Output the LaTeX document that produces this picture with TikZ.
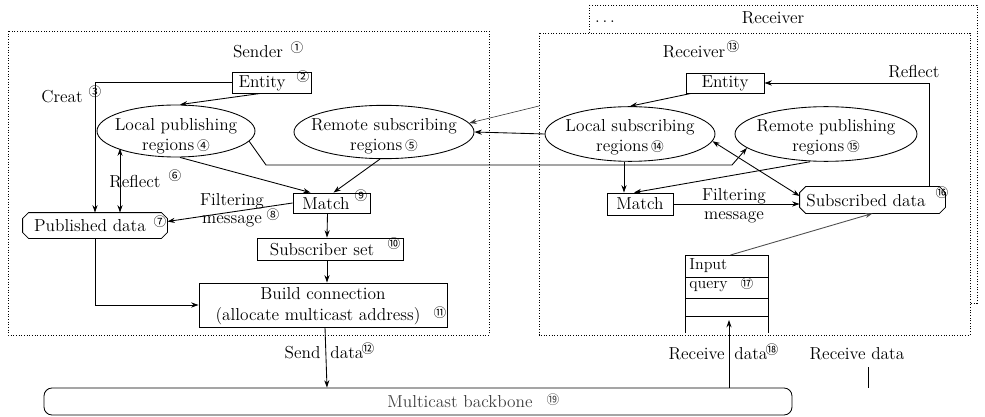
\documentclass[tikz,border=0pt]{standalone}
\usepackage{fontspec}
\newfontfamily\cjkf{Noto Sans CJK SC}
\usetikzlibrary{arrows.meta,shapes.geometric,calc}
\newcommand\cn[1]{{\cjkf\fontsize{9.5}{10}\selectfont #1}}
\newcommand\chamf[1]{%
  \draw ($(#1.north west)+(6,0)$) -- ($(#1.north east)+(-6,0)$) -- ($(#1.north east)+(0,6)$)
     -- ($(#1.south east)+(0,-6)$) -- ($(#1.south east)+(-6,0)$) -- ($(#1.south west)+(6,0)$)
     -- ($(#1.south west)+(0,-6)$) -- ($(#1.north west)+(0,6)$) -- cycle;}
\begin{document}
\begin{tikzpicture}[x=0.75pt,y=-0.75pt,
  font=\fontsize{13}{15}\selectfont,
  >={Stealth[length=5.5pt,width=3.8pt]},
  line width=0.65pt,
  frame/.style={draw,dash pattern=on 0.7pt off 1.3pt,line width=0.5pt},
  bx/.style={draw,rectangle,inner sep=0pt},
  ell/.style={draw,ellipse,inner sep=0pt},
  cham/.style={rectangle,inner sep=0pt},
  lbl/.style={inner sep=0pt},
  num/.style={inner sep=0pt,font=\cjkf\fontsize{9.5}{10}\selectfont}]
\useasboundingbox (0,0) rectangle (985,417);

% frames
\draw[frame] (8,31) rectangle (489,335);
\draw[frame,fill=white] (589,5) rectangle (977,303);
\draw[frame,fill=white] (539,33) rectangle (970,335);
\node[lbl] at (605,22) {.\,.\,.};
\node[lbl] at (773,18) {Receiver};

% ---------- sender ----------
\node[lbl] at (258,52) {Sender};
\node[num] at (297,48) {①};

\node[bx,minimum width=59.25pt,minimum height=15.75pt] (ent1) at (271.5,82.5) {};
\node[lbl] at (262,83) {Entity};
\node[num] at (303,77) {②};

\node[lbl] at (62,97) {Creat};
\node[num] at (95,92) {③};

\node[ell,minimum width=118.5pt,minimum height=39pt] (lp) at (176,131) {};
\node[lbl,align=center] at (176,136) {Local publishing\\regions\,\cn{④}};

\node[ell,minimum width=135pt,minimum height=40pt] (rs) at (384,132) {};
\node[lbl,align=center] at (384,136) {Remote subscribing\\regions\,\cn{⑤}};

\node[lbl] at (135,182) {Reflect};
\node[num] at (175,176) {⑥};

\node[cham,minimum width=108pt,minimum height=18.75pt] (pub) at (95,225.5) {};
\chamf{pub}
\node[lbl] at (90,226) {Published data};
\node[num] at (160,222) {⑦};

\node[lbl] at (232,201) {Filtering};
\node[lbl] at (232,221) {message};
\node[num] at (273,215) {⑧};

\node[bx,minimum width=57.75pt,minimum height=15pt] (m1) at (331.5,203) {};
\node[lbl] at (326,204) {Match};
\node[num] at (361,196) {⑨};

\node[bx,minimum width=109.5pt,minimum height=16.5pt] (sub) at (330,249) {};
\node[lbl] at (322,250) {Subscriber set};
\node[num] at (394,244) {⑩};

\node[bx,minimum width=186pt,minimum height=33pt] (bc) at (323,305) {};
\node[lbl] at (323,294) {Build connection};
\node[lbl] at (318,316) {(allocate multicast address)};
\node[num] at (440,313) {⑪};

\node[lbl,anchor=east] at (321,353) {Send};
\node[lbl,anchor=west] at (330,353) {data};
\node[num] at (368,349) {⑫};

% ---------- receiver ----------
\node[lbl] at (694,52) {Receiver};
\node[num] at (733,47) {⑬};

\node[bx,minimum width=58.5pt,minimum height=15pt] (ent2) at (725,83) {};
\node[lbl] at (725,83) {Entity};

\node[lbl] at (914,72) {Reflect};

\node[ell,minimum width=127.5pt,minimum height=41pt] (ls) at (630,134) {};
\node[lbl,align=center] at (630,137) {Local subscribing\\regions\,\cn{⑭}};

\node[ell,minimum width=136.5pt,minimum height=41pt] (rp) at (826,134) {};
\node[lbl,align=center] at (826,137) {Remote publishing\\regions\,\cn{⑮}};

\node[bx,minimum width=49.5pt,minimum height=16.5pt] (m2) at (640,204) {};
\node[lbl] at (640,204) {Match};

\node[lbl] at (734,196) {Filtering};
\node[lbl] at (734,217) {message};

\node[cham,minimum width=108.75pt,minimum height=19.5pt] (subd) at (872.5,200) {};
\chamf{subd}
\node[lbl] at (866,201) {Subscribed data};
\node[num] at (942,193) {⑯};

% input query stack
\coordinate (stk) at (726.5,255);
\draw (685,333) -- (685,255) -- (768,255) -- (768,333);
\draw (685,277) -- (768,277);
\draw (685,298) -- (768,298);
\draw (685,316) -- (768,316);
\node[lbl,anchor=west,font=\fontsize{12}{14}\selectfont] at (689,266) {Input};
\node[lbl,anchor=west,font=\fontsize{12}{14}\selectfont] at (689,287) {query};
\node[num] at (747,284) {⑰};

% backbone
\node[draw,rounded corners=6pt,minimum width=561pt,minimum height=20.25pt,inner sep=0pt] (bb) at (418,401.5) {};
\node[lbl,text=black!75] at (460,402) {Multicast backbone};
\node[num,text=black!75] at (553,400) {⑲};

\node[lbl,anchor=east] at (725,354) {Receive};
\node[lbl,anchor=west] at (734,354) {data};
\node[num] at (772,350) {⑱};
\node[lbl] at (857,354) {Receive data};

% ---------- connectors ----------
\draw[->] (ent1.west) -| (pub.north);
\draw[->] ($(ent1.south)+(-11,0)$) -- ($(lp.north)+(4,0)$);
\draw[<->] ($(pub.north)+(25,0)$) -- ($(pub.north)+(25,-64)$);
\draw[->] ($(lp.south)+(4,0)$) -- ($(m1.north)+(-21,0)$);
\draw[->] ($(rs.south)+(-4,0)$) -- ($(m1.north)+(2,0)$);
\draw[->] (m1.west) -- ($(pub.east)+(0,-4)$);
\draw[->] ($(m1.south)+(-4,0)$) -- ($(sub.north)+(-3,0)$);
\draw[->] ($(sub.south)+(-3,0)$) -- ($(bc.north)+(4,0)$);
\draw[->] (pub.south) |- (bc.west);
\draw[->] ($(bc.south)+(2,0)$) -- ($(bb.north)+(-91,0)$);

\coordinate (b1) at (266,165);
\coordinate (b2) at (732,165);
\draw[->] (lp.-8) -- (b1) -- (b2) -- (rp.190);

\draw[->] (ls.west) -- (rs.east);
\coordinate (rin) at (539,106);
\draw[->,line width=0.45pt,black!80] (rin) -- (rs.6);

\draw[->] ($(ent2.south)+(-34,0)$) -- (ls.north);
\draw[->] ($(subd.north)+(56.5,0)$) |- (ent2.east);
\draw[->] ($(ls.south)+(-6,0)$) -- ($(m2.north)+(-16,0)$);
\draw[->] ($(rp.south)+(-16,0)$) -- ($(m2.north)+(-6,0)$);
\draw[<->] (ls.-5) -- ($(subd.west)+(0,-4)$);
\draw[->] (m2.east) -- (m2.east -| subd.west);
\draw[->,black!70] ($(stk)+(4,0)$) -- (subd.south);

\coordinate (rd1) at (729,320);
\draw[->] (rd1 |- bb.north) -- (rd1);
\coordinate (rd2) at (868,367);
\draw (rd2 |- bb.north) -- (rd2);
\end{tikzpicture}
\end{document}
